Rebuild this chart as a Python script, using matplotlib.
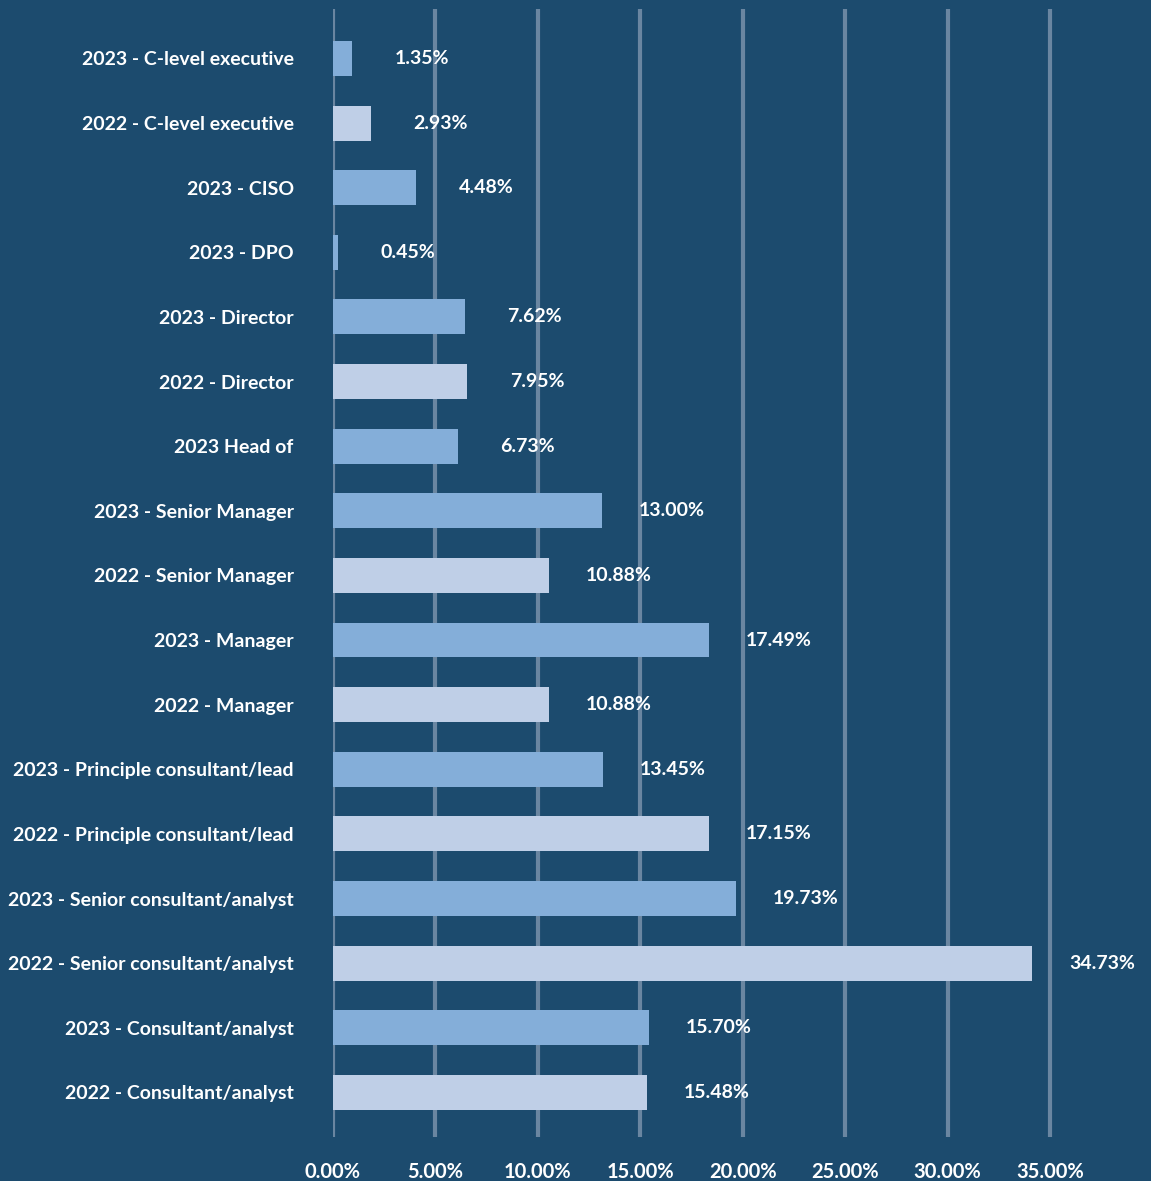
import matplotlib.pyplot as plt
import numpy as np

# categories, top to bottom as in the chart
roles = ["2023 - C-level executive", "2022 - C-level executive", "2023 - CISO",
         "2023 - DPO", "2023 - Director", "2022 - Director", "2023 Head of",
         "2023 - Senior Manager", "2022 - Senior Manager", "2023 - Manager",
         "2022 - Manager", "2023 - Principle consultant/lead",
         "2022 - Principle consultant/lead", "2023 - Senior consultant/analyst",
         "2022 - Senior consultant/analyst", "2023 - Consultant/analyst",
         "2022 - Consultant/analyst"]
# bar lengths as drawn (percent)
bar_values = [0.94, 1.87, 4.06, 0.26, 6.45, 6.55, 6.11, 13.14, 10.55, 18.36,
              10.55, 13.19, 18.36, 19.67, 34.13, 15.43, 15.33]
# printed data labels
value_labels = ["1.35%", "2.93%", "4.48%", "0.45%", "7.62%", "7.95%", "6.73%",
                "13.00%", "10.88%", "17.49%", "10.88%", "13.45%", "17.15%",
                "19.73%", "34.73%", "15.70%", "15.48%"]
x_ticks = [0, 5, 10, 15, 20, 25, 30, 35]

bg = "#1c4b6e"
c2023 = "#84aed9"
c2022 = "#bfcfe7"
grid_col = "#6a86a1"

plt.rcParams['font.family'] = ['Lato', 'DejaVu Sans']

fig = plt.figure(figsize=(11.51, 11.81), dpi=100, facecolor=bg)
ax = fig.add_axes([0.289, 0.0373, 0.711, 0.9551])
ax.set_facecolor(bg)

y = np.arange(len(roles))
colors = [c2023 if r.startswith("2023") else c2022 for r in roles]
ax.barh(y, bar_values, height=0.54, color=colors, zorder=2)

for yi, v, lab in zip(y, bar_values, value_labels):
    ax.annotate(lab, (v, yi), xytext=(70, 0), textcoords='offset pixels',
                ha='center', va='center', color='white', fontsize=14,
                fontweight='bold', annotation_clip=False, zorder=3)

ax.set_ylim(len(roles) - 1 + 0.69, -0.766)
ax.set_xlim(0, (1151 - 332.7) / 20.5)
ax.set_yticks(y)
ax.set_yticklabels(roles, color='white', fontsize=14, fontweight='bold')
ax.set_xticks(x_ticks)
ax.set_xticklabels([f"{t:.2f}%" for t in x_ticks], color='white', fontsize=14.5,
                   fontweight='bold')
ax.tick_params(axis='y', length=0, pad=28)
ax.tick_params(axis='x', length=0, pad=18)
ax.grid(axis='x', color=grid_col, linewidth=3)
ax.set_axisbelow(True)
for s in ax.spines.values():
    s.set_visible(False)

fig.savefig("out.png", dpi=100, facecolor=bg)
